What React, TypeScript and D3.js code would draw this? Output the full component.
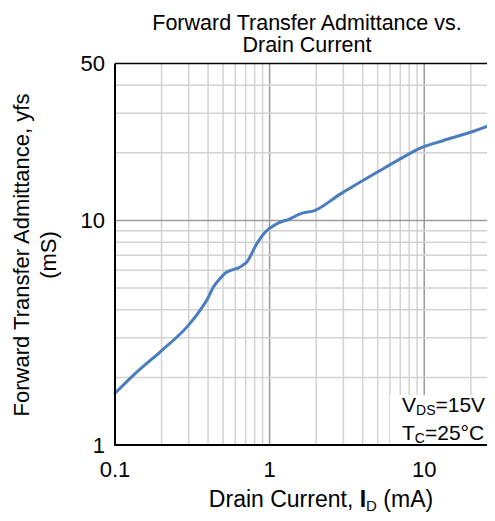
import * as d3 from "d3"
import { useRef, useEffect } from "react"

// drain current (mA) and forward transfer admittance (mS)
const currentMA = [0.1, 0.135, 0.196, 0.298, 0.355, 0.392, 0.433, 0.478, 0.52, 0.56, 0.644, 0.712, 0.826, 0.935, 1.113, 1.357, 1.575, 1.97, 2.86, 5.19, 7.0, 9.42, 13.3, 19.9, 28.8]
const yfsMS = [1.70, 2.08, 2.60, 3.41, 3.98, 4.41, 5.05, 5.51, 5.85, 5.99, 6.20, 6.53, 7.88, 8.87, 9.67, 10.17, 10.7, 11.1, 13.1, 16.7, 18.8, 21.0, 22.7, 24.7, 27.1]

const xTicks = [0.1, 1, 10]
const yTicks = [1, 10, 50]
const xGrid = [0.2, 0.3, 0.4, 0.5, 0.6, 0.7, 0.8, 0.9, 1, 2, 3, 4, 5, 6, 7, 8, 9, 10, 20]
const yGrid = [2, 3, 4, 5, 6, 7, 8, 9, 10, 20, 30, 40]

export default function App() {
  const ref = useRef<SVGSVGElement>(null)

  useEffect(() => {
    const width = 495
    const height = 521
    const left = 115
    const right = 498
    const top = 63.5
    const bottom = 445
    const font = "Arial, 'Liberation Sans', sans-serif"

    const x = d3.scaleLog().domain([0.1, 30]).range([left, right])
    const y = d3.scaleLog().domain([1, 50]).range([bottom, top])

    const svg = d3.select(ref.current)
    svg.selectAll("*").remove()
    svg.attr("width", width).attr("height", height)

    svg.append("rect").attr("width", width).attr("height", height).attr("fill", "white")

    const isMajor = (v: number) => Math.abs(Math.log10(v) - Math.round(Math.log10(v))) < 1e-9

    svg.append("g")
      .selectAll("line")
      .data(xGrid)
      .join("line")
      .attr("x1", d => x(d)).attr("x2", d => x(d))
      .attr("y1", top).attr("y2", bottom)
      .attr("stroke", d => isMajor(d) ? "#9a9a9a" : "#d2d2d2")
      .attr("stroke-width", 1.5)

    svg.append("g")
      .selectAll("line")
      .data(yGrid)
      .join("line")
      .attr("x1", left).attr("x2", width)
      .attr("y1", d => y(d)).attr("y2", d => y(d))
      .attr("stroke", d => isMajor(d) ? "#9a9a9a" : "#d2d2d2")
      .attr("stroke-width", 1.5)

    // white box behind the conditions
    svg.append("rect")
      .attr("x", 390).attr("y", 395)
      .attr("width", width - 390).attr("height", bottom - 395)
      .attr("fill", "white")

    const line = d3.line<number>()
      .x((d, i) => x(currentMA[i]))
      .y(d => y(d))
      .curve(d3.curveMonotoneX)

    svg.append("path")
      .datum(yfsMS)
      .attr("d", line)
      .attr("fill", "none")
      .attr("stroke", "#4a7dbd")
      .attr("stroke-width", 3)
      .attr("stroke-linecap", "round")

    // frame
    svg.append("line").attr("x1", left).attr("x2", width).attr("y1", top).attr("y2", top)
      .attr("stroke", "black").attr("stroke-width", 1.5)
    svg.append("line").attr("x1", left).attr("x2", left).attr("y1", top).attr("y2", bottom)
      .attr("stroke", "black").attr("stroke-width", 2)
    svg.append("line").attr("x1", left - 1).attr("x2", width).attr("y1", bottom).attr("y2", bottom)
      .attr("stroke", "black").attr("stroke-width", 2)

    svg.append("g")
      .selectAll("text")
      .data(yTicks)
      .join("text")
      .attr("x", 105)
      .attr("y", d => y(d) + 7.5)
      .attr("text-anchor", "end")
      .attr("font-family", font)
      .attr("font-size", 22)
      .text(d => d)

    svg.append("g")
      .selectAll("text")
      .data(xTicks)
      .join("text")
      .attr("x", d => x(d))
      .attr("y", 477)
      .attr("text-anchor", "middle")
      .attr("font-family", font)
      .attr("font-size", 22)
      .text(d => d)

    const title = svg.append("text")
      .attr("text-anchor", "middle")
      .attr("font-family", font)
      .attr("font-size", 21.5)
    title.append("tspan").attr("x", 307).attr("y", 30).text("Forward Transfer Admittance vs.")
    title.append("tspan").attr("x", 307).attr("y", 52).text("Drain Current")

    const xt = svg.append("text")
      .attr("x", 321).attr("y", 507)
      .attr("text-anchor", "middle")
      .attr("font-family", font)
      .attr("font-size", 23)
    xt.append("tspan").text("Drain Current, ")
    xt.append("tspan").attr("font-weight", "bold").text("I")
    xt.append("tspan").attr("font-size", 15).attr("dy", 4).text("D")
    xt.append("tspan").attr("dy", -4).text(" (mA)")

    const yt = svg.append("text")
      .attr("transform", "translate(0,255) rotate(-90)")
      .attr("text-anchor", "middle")
      .attr("font-family", font)
      .attr("font-size", 22)
    yt.append("tspan").attr("x", 0).attr("y", 29).text("Forward Transfer Admittance, yfs")
    yt.append("tspan").attr("x", 0).attr("y", 56).text("(mS)")

    const cond = svg.append("g").attr("font-family", font).attr("font-size", 21)
    const c1 = cond.append("text").attr("x", 402).attr("y", 412)
    c1.append("tspan").text("V")
    c1.append("tspan").attr("font-size", 14).attr("dy", 3).text("DS")
    c1.append("tspan").attr("dy", -3).text("=15V")
    const c2 = cond.append("text").attr("x", 402).attr("y", 440)
    c2.append("tspan").text("T")
    c2.append("tspan").attr("font-size", 14).attr("dy", 3).text("C")
    c2.append("tspan").attr("dy", -3).text("=25°C")
  }, [])

  return (
    <div style={{ margin: "-8px" }}>
      <svg ref={ref}></svg>
    </div>
  )
}
